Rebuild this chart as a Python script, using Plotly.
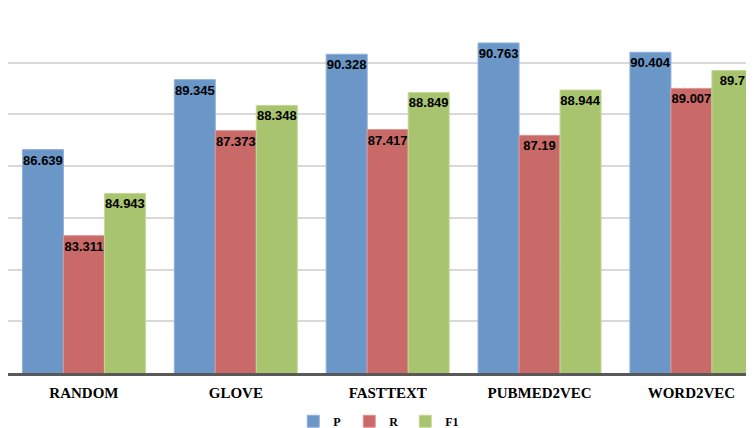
import plotly.graph_objects as go

categories = ["RANDOM", "GLOVE", "FASTTEXT", "PUBMED2VEC", "WORD2VEC"]
tick_labels = ["RANDOM", "GLOVE", "FASTTEXT", "PUBMED2VEC", "WORD2VEC"]
p_values = [86.639, 89.345, 90.328, 90.763, 90.404]
r_values = [83.311, 87.373, 87.417, 87.19, 89.007]
f1_values = [84.943, 88.348, 88.849, 88.944, 89.7]

series = [("P", p_values, "#6a96c8", "#8fb0da"),
          ("R", r_values, "#c96a68", "#dc9593"),
          ("F1", f1_values, "#a9c46f", "#c4d898")]

fig = go.Figure()
for name, vals, color, edge in series:
    fig.add_trace(go.Bar(
        name=name, x=categories, y=vals,
        text=[f"{v:g}" for v in vals],
        textposition="inside", insidetextanchor="end", textangle=0,
        constraintext="none",
        textfont=dict(family="Liberation Sans", size=13, color="black", weight="bold"),
        marker=dict(color=color, line=dict(color=edge, width=1)),
    ))

# The page body has an 8px margin, so the figure is sized to end at the window edge.
fig.update_layout(
    width=746, height=420,
    barmode="group", bargap=0.19, bargroupgap=0,
    plot_bgcolor="white", paper_bgcolor="white",
    margin=dict(l=0, r=0, t=2.7, b=55.3, autoexpand=False),
    showlegend=True,
    legend=dict(orientation="h", xref="container", yref="container",
                x=0.495, xanchor="center", y=0.016, yanchor="middle",
                font=dict(family="Liberation Serif", size=12, color="black", weight="bold"),
                itemwidth=30, entrywidth=11, traceorder="normal"),
    xaxis=dict(range=[-0.5, 4.412], tickvals=categories, ticktext=tick_labels,
               showline=True, linecolor="#595959", linewidth=3,
               automargin=False, ticklabelstandoff=4,
               tickfont=dict(family="Liberation Serif", size=15, color="black", weight="bold"),
               ticks="", showgrid=False),
    yaxis=dict(range=[78, 92], dtick=2, showticklabels=False, showgrid=True,
               automargin=False,
               gridcolor="#d9d9d9", gridwidth=1.5, zeroline=False, showline=False),
)
fig.write_html("out.html")
